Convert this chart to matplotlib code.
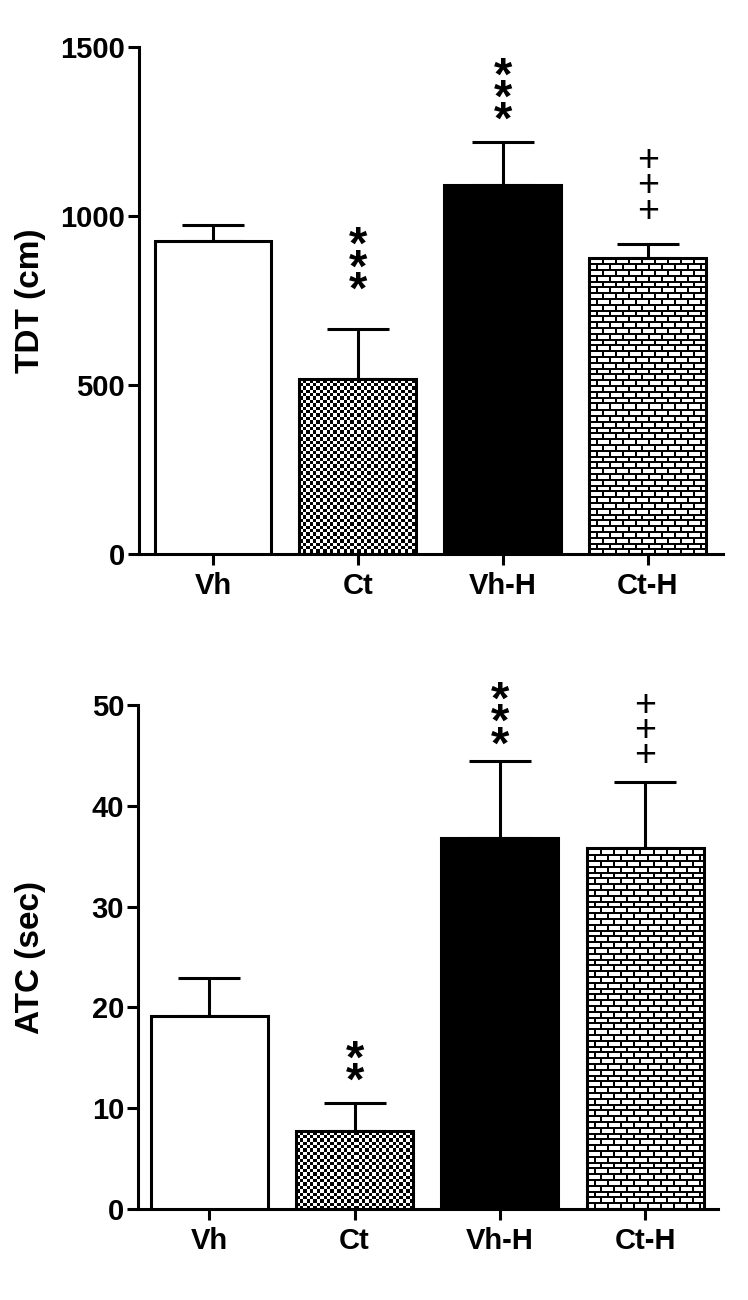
import numpy as np
import matplotlib
matplotlib.use('Agg')
import matplotlib.pyplot as plt

# data
groups = ['Vh', 'Ct', 'Vh-H', 'Ct-H']
tdt_mean = [927, 517, 1092, 877]
tdt_sem = [47, 150, 127, 41]
atc_mean = [19.1, 7.7, 36.8, 35.8]
atc_sem = [3.8, 2.8, 7.6, 6.6]
tdt_marks = ['', '***', '***', '+++']
atc_marks = ['', '**', '***', '+++']
fills = ['white', 'checker', 'black', 'brick']

plt.rcParams['font.family'] = ['Liberation Sans', 'DejaVu Sans']
plt.rcParams['font.weight'] = 'bold'

W, H = 748, 1300
fig = plt.figure(figsize=(W / 100, H / 100), dpi=100)

LW = 2.2


def texture(kind, w, h):
    yy, xx = np.mgrid[0:h, 0:w]
    if kind == 'checker':
        cell = 3.4
        img = ((np.floor(xx / cell) + np.floor(yy / cell)) % 2 == 0).astype(float)
    else:
        row = 5.8
        r = np.floor(yy / row)
        mortar_h = (yy % row) < 2.0
        shift = np.where(r % 2 == 0, 0.0, 6.5)
        mortar_v = ((xx + shift) % 13.0) < 2.0
        img = (~(mortar_h | mortar_v)).astype(float)
    return img


def panel(rect, means, sems, marks, ylim, yticks, ylabel, xlim, offs):
    ax = fig.add_axes(rect)
    x = np.arange(len(groups))
    bars = ax.bar(x, means, width=0.805, color='white', edgecolor='black',
                  linewidth=LW, zorder=3)
    ax.errorbar(x, means, yerr=[np.zeros(len(x)), sems], fmt='none',
                ecolor='black', elinewidth=LW, capsize=22, capthick=LW,
                zorder=2)
    ax.set_xlim(*xlim)
    ax.set_ylim(*ylim)
    ax.set_yticks(yticks)
    ax.set_xticks(x)
    ax.set_xticklabels(groups, fontsize=21, fontweight='bold')
    for t in ax.get_yticklabels():
        t.set_fontsize(21)
        t.set_fontweight('bold')
    ax.set_ylabel(ylabel, fontsize=24, fontweight='bold')
    ax.yaxis.label.set_va('center')
    px_w = rect[2] * W
    ax.yaxis.set_label_coords((31 - rect[0] * W) / px_w, 0.5)
    for s in ['top', 'right']:
        ax.spines[s].set_visible(False)
    for s in ['left', 'bottom']:
        ax.spines[s].set_linewidth(LW)
    ax.tick_params(axis='y', direction='out', length=8, width=LW, pad=2)
    ax.tick_params(axis='x', direction='out', length=8, width=LW, pad=5)

    fig.canvas.draw()
    for b, kind in zip(bars, fills):
        if kind == 'black':
            b.set_facecolor('black')
        elif kind in ('checker', 'brick'):
            b.set_facecolor('none')
            x0, y0 = b.get_x(), 0
            x1, y1 = b.get_x() + b.get_width(), b.get_height()
            p0 = ax.transData.transform((x0, y0))
            p1 = ax.transData.transform((x1, y1))
            w = int(round(p1[0] - p0[0]))
            h = int(round(p1[1] - p0[1]))
            img = texture(kind, w, h)
            ax.imshow(img, cmap='gray', vmin=0, vmax=1, extent=(x0, x1, y0, y1),
                      origin='upper', interpolation='nearest', aspect='auto',
                      zorder=2.5)
    ax.set_xlim(*xlim)
    ax.set_ylim(*ylim)

    for i, m in enumerate(marks):
        if not m:
            continue
        top = means[i] + sems[i]
        if m[0] == '*':
            size, wt, ls, mid = 34, 'bold', 0.36, 0.57
        else:
            size, wt, ls, mid = 27, 'normal', 0.62, 0.37
        em = size / 0.72
        ax.annotate('\n'.join(m), xy=(x[i], top),
                    xytext=(0, (offs[i] - mid * em) * 0.72),
                    textcoords='offset points', ha='center', va='baseline',
                    fontsize=size, fontweight=wt, linespacing=ls,
                    multialignment='center', annotation_clip=False)
    return ax


top_l, top_r = 139, 723
panel([top_l / W, 1 - 554 / H, (top_r - top_l) / W, (554 - 47) / H],
      tdt_mean, tdt_sem, tdt_marks, (0, 1500), [0, 500, 1000, 1500],
      'TDT (cm)', (-0.51, 3.52), [0, 52, 35, 36])

bot_l, bot_r = 138, 718
panel([bot_l / W, 1 - 1209 / H, (bot_r - bot_l) / W, (1209 - 705) / H],
      atc_mean, atc_sem, atc_marks, (0, 50), [0, 10, 20, 30, 40, 50],
      'ATC (sec)', (-0.49, 3.5), [0, 35, 30, 29])

fig.savefig('out.png', dpi=100)
